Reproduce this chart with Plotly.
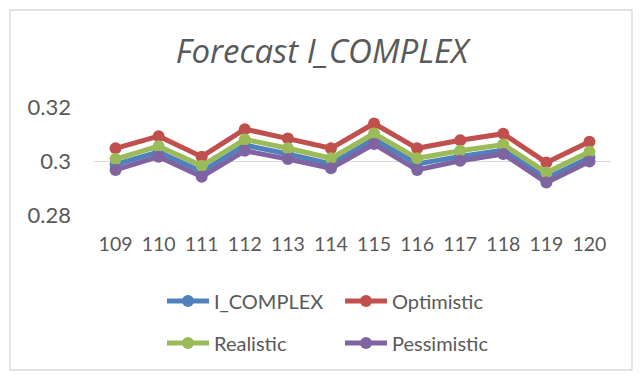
import plotly.graph_objects as go

# Periods and forecast series
periods = ["109", "110", "111", "112", "113", "114", "115", "116", "117", "118", "119", "120"]
i_complex = [0.2987, 0.3034, 0.2961, 0.3059, 0.3026, 0.2989, 0.3081, 0.2989, 0.3017, 0.3040, 0.2936, 0.3013]
optimistic = [0.3047, 0.3092, 0.3016, 0.3118, 0.3083, 0.3047, 0.3139, 0.3047, 0.3077, 0.3101, 0.2994, 0.3071]
realistic = [0.3007, 0.3055, 0.2982, 0.3080, 0.3047, 0.3010, 0.3102, 0.3010, 0.3038, 0.3061, 0.2957, 0.3034]
pessimistic = [0.2967, 0.3016, 0.2942, 0.3038, 0.3007, 0.2973, 0.3063, 0.2967, 0.3001, 0.3026, 0.2920, 0.2998]

series = [
    ("I_COMPLEX", i_complex, "#4F81BD", "legend"),
    ("Optimistic", optimistic, "#C0504D", "legend"),
    ("Realistic", realistic, "#9BBB59", "legend2"),
    ("Pessimistic", pessimistic, "#8064A2", "legend2"),
]

FONT = "Lato, 'Open Sans', sans-serif"
TITLE_FONT = "'Open Sans', Lato, sans-serif"
GRAY = "#595959"

fig = go.Figure()
for name, vals, color, leg in series:
    fig.add_trace(go.Scatter(
        x=periods, y=vals, name=name, mode="lines+markers",
        line=dict(color=color, width=5),
        marker=dict(color=color, size=12),
        legend=leg,
    ))

W, H = 644, 379
ml, mr, mt, mb = 94, 33, 107, 164
pw, ph = W - ml - mr, H - mt - mb

def px_x(p):
    return (p - ml) / pw

def px_y(p):
    return (H - mb - p) / ph

legend_style = dict(
    orientation="h", xanchor="left", yanchor="middle",
    font=dict(family=FONT, size=20, color=GRAY),
    entrywidth=121, entrywidthmode="pixels",
    itemwidth=42, bgcolor="rgba(0,0,0,0)",
)

fig.update_layout(
    width=W, height=H,
    margin=dict(l=ml, r=mr, t=mt, b=mb, autoexpand=False),
    paper_bgcolor="white", plot_bgcolor="white",
    title=dict(
        text="<i>Forecast I_COMPLEX</i>",
        font=dict(family=TITLE_FONT, size=33, color=GRAY),
        x=0.5, xanchor="center", y=1 - 51 / H, yanchor="middle",
    ),
    xaxis=dict(
        type="category", range=[-0.5, len(periods) - 0.5],
        showgrid=False, zeroline=False, showline=False,
        ticks="", tickfont=dict(family=FONT, size=19.5, color=GRAY),
        ticklabelstandoff=15, automargin=False,
    ),
    yaxis=dict(
        range=[0.28, 0.32], tickvals=[0.28, 0.3, 0.32],
        ticktext=["0.28", "0.3", "0.32"],
        showgrid=True, gridcolor="#D9D9D9", gridwidth=1.3,
        zeroline=False, showline=False, ticks="",
        tickfont=dict(family=FONT, size=22, color=GRAY),
        ticklabelstandoff=22, automargin=False,
    ),
    legend=dict(x=px_x(162), y=px_y(301), **legend_style),
    legend2=dict(x=px_x(162), y=px_y(343), **legend_style),
    shapes=[dict(
        type="rect", xref="paper", yref="paper",
        x0=px_x(10), x1=px_x(632), y0=px_y(370), y1=px_y(10),
        line=dict(color="#D9D9D9", width=1.3), fillcolor="rgba(0,0,0,0)",
        layer="below",
    )],
)

fig.write_html("out.html")
